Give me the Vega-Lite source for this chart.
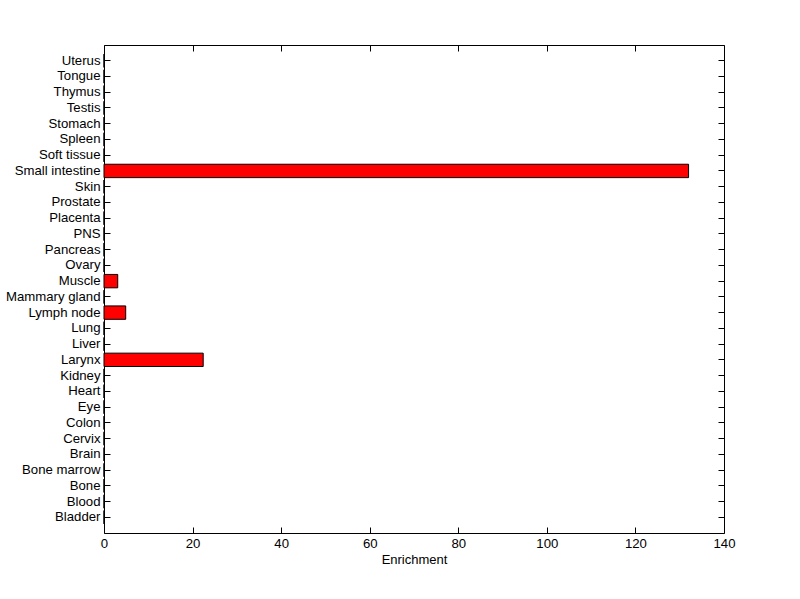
{
  "$schema": "https://vega.github.io/schema/vega-lite/v6.json",
  "autosize": "none",
  "width": 620,
  "height": 488,
  "padding": {"left": 104, "top": 45, "right": 76, "bottom": 66},
  "background": "white",
  "config": {
    "view": {"stroke": "black", "strokeWidth": 1},
    "font": "Liberation Sans",
    "axis": {"grid": false, "domain": false, "tickColor": "black", "labelColor": "black", "titleColor": "black", "labelFont": "Liberation Sans", "titleFont": "Liberation Sans", "labelFontSize": 13.2, "titleFontSize": 13, "titleFontWeight": "normal", "tickSize": -6, "tickWidth": 1, "labelFlush": false, "labelOverlap": false}
  },
  "data": {"values": [
    {"tissue": "Uterus", "value": 0},
    {"tissue": "Tongue", "value": 0},
    {"tissue": "Thymus", "value": 0},
    {"tissue": "Testis", "value": 0},
    {"tissue": "Stomach", "value": 0},
    {"tissue": "Spleen", "value": 0},
    {"tissue": "Soft tissue", "value": 0},
    {"tissue": "Small intestine", "value": 132},
    {"tissue": "Skin", "value": 0},
    {"tissue": "Prostate", "value": 0},
    {"tissue": "Placenta", "value": 0},
    {"tissue": "PNS", "value": 0},
    {"tissue": "Pancreas", "value": 0},
    {"tissue": "Ovary", "value": 0},
    {"tissue": "Muscle", "value": 3.1},
    {"tissue": "Mammary gland", "value": 0},
    {"tissue": "Lymph node", "value": 4.9},
    {"tissue": "Lung", "value": 0},
    {"tissue": "Liver", "value": 0},
    {"tissue": "Larynx", "value": 22.4},
    {"tissue": "Kidney", "value": 0},
    {"tissue": "Heart", "value": 0},
    {"tissue": "Eye", "value": 0},
    {"tissue": "Colon", "value": 0},
    {"tissue": "Cervix", "value": 0},
    {"tissue": "Brain", "value": 0},
    {"tissue": "Bone marrow", "value": 0},
    {"tissue": "Bone", "value": 0},
    {"tissue": "Blood", "value": 0},
    {"tissue": "Bladder", "value": 0}
  ]},
  "resolve": {"axis": {"x": "independent", "y": "independent"}},
  "layer": [
    {
      "mark": {"type": "bar", "fill": "#ff0000", "stroke": "black", "strokeWidth": 1},
      "encoding": {
        "y": {"field": "tissue", "type": "nominal", "sort": null,
              "scale": {"paddingInner": 0.15, "paddingOuter": 0.575},
              "axis": {"title": null, "orient": "left", "labelPadding": 10}},
        "x": {"field": "value", "type": "quantitative",
              "scale": {"domain": [0, 140], "nice": false},
              "axis": {"title": "Enrichment", "orient": "bottom", "values": [0, 20, 40, 60, 80, 100, 120, 140], "labelPadding": 10, "titlePadding": 4}}
      }
    },
    {
      "mark": {"type": "bar", "fill": "transparent", "opacity": 0, "strokeOpacity": 0},
      "encoding": {
        "y": {"field": "tissue", "type": "nominal", "sort": null,
              "axis": {"title": null, "orient": "right", "labels": false}},
        "x": {"field": "value", "type": "quantitative",
              "axis": {"title": null, "orient": "top", "labels": false, "values": [0, 20, 40, 60, 80, 100, 120, 140]}}
      }
    }
  ]
}
